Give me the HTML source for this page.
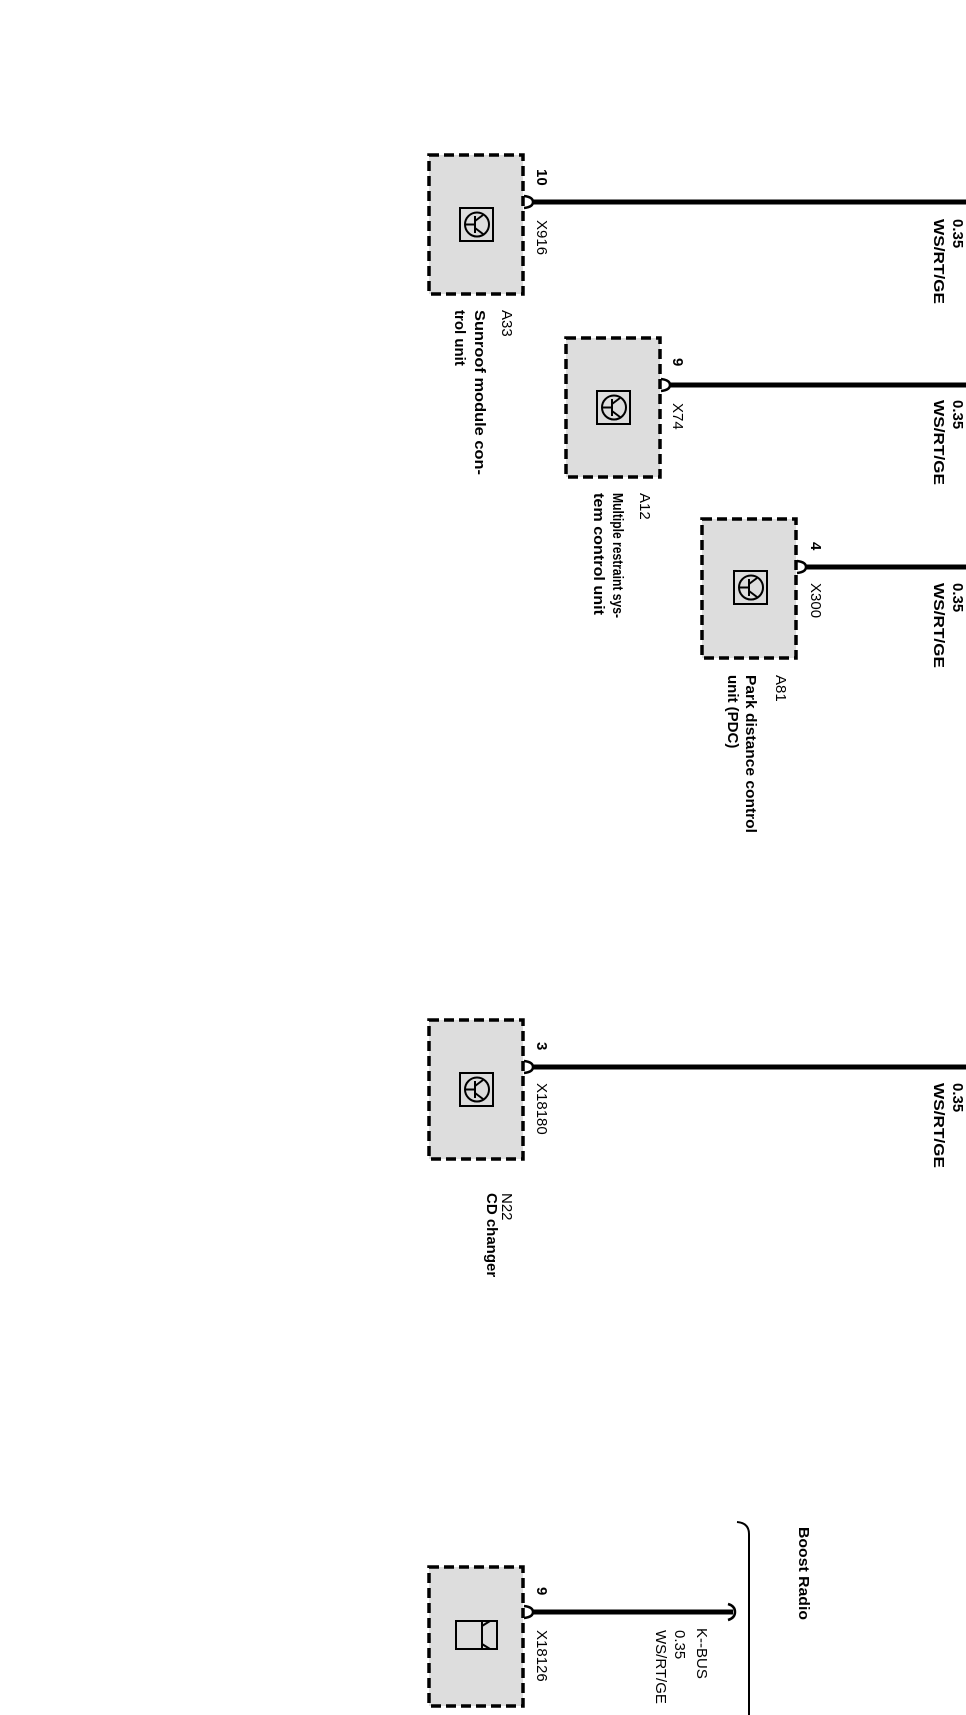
<!DOCTYPE html>
<html><head><meta charset="utf-8"><style>
html,body{margin:0;padding:0;background:#fff;}
svg{display:block;}
text{font-family:"Liberation Sans",Arial,sans-serif;fill:#000;}
.b{font-weight:bold;}
</style></head><body>
<svg width="966" height="1715" viewBox="0 0 966 1715" xmlns="http://www.w3.org/2000/svg">
<defs>
<g id="tr">
<rect x="0" y="0" width="33" height="33" fill="none" stroke="#000" stroke-width="2"/>
<circle cx="17" cy="16.5" r="12" fill="none" stroke="#000" stroke-width="2"/>
<line x1="5" y1="16.5" x2="15" y2="16.5" stroke="#000" stroke-width="2"/>
<line x1="15" y1="8" x2="15" y2="25" stroke="#000" stroke-width="2"/>
<line x1="15" y1="13" x2="23" y2="7" stroke="#000" stroke-width="2"/>
<line x1="15" y1="20" x2="23" y2="26" stroke="#000" stroke-width="2"/>
</g>
</defs>
<g fill="#dddddd" stroke="#000" stroke-width="3.5" stroke-dasharray="10,5">
<rect x="429" y="155" width="94" height="139"/>
<rect x="566" y="338" width="94" height="139"/>
<rect x="702" y="519" width="94" height="139"/>
<rect x="429" y="1020" width="94" height="139"/>
<rect x="429" y="1567" width="94" height="139"/>
</g>
<g>
<use href="#tr" x="460" y="208"/>
<use href="#tr" x="597" y="391"/>
<use href="#tr" x="734" y="571"/>
<use href="#tr" x="460" y="1073"/>
</g>
<rect x="456" y="1621" width="26" height="28" fill="none" stroke="#000" stroke-width="2"/>
<path d="M482,1621 L497,1621 L497,1649 L482,1649 M482,1626 L490,1621 M482,1644 L490,1649" fill="none" stroke="#000" stroke-width="2"/>
<g stroke="#000" fill="none" stroke-width="2.5">
<path d="M524,196 q9,1 9,6 q0,5 -9,6"/>
<path d="M661,379 q9,1 9,6 q0,5 -9,6"/>
<path d="M797,561 q9,1 9,6 q0,5 -9,6"/>
<path d="M524,1061 q9,1 9,6 q0,5 -9,6"/>
<path d="M524,1606 q9,1 9,6 q0,5 -9,6"/>
<path d="M728,1604 q7,2 7,8 q0,6 -7,8"/>
<path d="M737,1522 q12,1 12,12 L749,1715" stroke-width="2"/>
</g>
<g stroke="#000" stroke-width="5">
<line x1="533" y1="202" x2="966" y2="202"/>
<line x1="670" y1="385" x2="966" y2="385"/>
<line x1="806" y1="567" x2="966" y2="567"/>
<line x1="533" y1="1067" x2="966" y2="1067"/>
<line x1="533" y1="1612" x2="733" y2="1612"/>
</g>
<g font-size="15">
<text class="b" transform="translate(537,169) rotate(90)">10</text>
<text transform="translate(537,220) rotate(90)">X916</text>
<text class="b" transform="translate(953,219) rotate(90)">0.35</text>
<text class="b" transform="translate(934,219) rotate(90)" textLength="85" lengthAdjust="spacingAndGlyphs">WS/RT/GE</text>
<text transform="translate(502,310) rotate(90)">A33</text>
<text class="b" transform="translate(475,310) rotate(90)" textLength="165" lengthAdjust="spacingAndGlyphs">Sunroof module con-</text>
<text class="b" transform="translate(455,310) rotate(90)">trol unit</text>

<text class="b" transform="translate(673,358) rotate(90)">9</text>
<text transform="translate(673,403) rotate(90)">X74</text>
<text class="b" transform="translate(953,400) rotate(90)">0.35</text>
<text class="b" transform="translate(934,400) rotate(90)" textLength="85" lengthAdjust="spacingAndGlyphs">WS/RT/GE</text>
<text transform="translate(640,493) rotate(90)">A12</text>
<text class="b" transform="translate(613,493) rotate(90)" textLength="125" lengthAdjust="spacingAndGlyphs">Multiple restraint sys-</text>
<text class="b" transform="translate(594,493) rotate(90)" textLength="122" lengthAdjust="spacingAndGlyphs">tem  control unit</text>

<text class="b" transform="translate(811,542) rotate(90)">4</text>
<text transform="translate(811,583) rotate(90)">X300</text>
<text class="b" transform="translate(953,583) rotate(90)">0.35</text>
<text class="b" transform="translate(934,583) rotate(90)" textLength="85" lengthAdjust="spacingAndGlyphs">WS/RT/GE</text>
<text transform="translate(776,675) rotate(90)">A81</text>
<text class="b" transform="translate(746,675) rotate(90)" textLength="158" lengthAdjust="spacingAndGlyphs">Park distance control</text>
<text class="b" transform="translate(728,675) rotate(90)">unit (PDC)</text>

<text class="b" transform="translate(537,1042) rotate(90)">3</text>
<text transform="translate(537,1083) rotate(90)">X18180</text>
<text class="b" transform="translate(953,1083) rotate(90)">0.35</text>
<text class="b" transform="translate(934,1083) rotate(90)" textLength="85" lengthAdjust="spacingAndGlyphs">WS/RT/GE</text>
<text transform="translate(502,1193) rotate(90)">N22</text>
<text class="b" transform="translate(487,1193) rotate(90)">CD changer</text>

<text class="b" transform="translate(537,1587) rotate(90)">9</text>
<text transform="translate(537,1630) rotate(90)">X18126</text>
<text transform="translate(697,1628) rotate(90)">K--BUS</text>
<text transform="translate(675,1630) rotate(90)">0.35</text>
<text transform="translate(656,1630) rotate(90)">WS/RT/GE</text>
<text class="b" transform="translate(799,1527) rotate(90)" textLength="93" lengthAdjust="spacingAndGlyphs">Boost Radio</text>
</g>
</svg>
</body></html>
